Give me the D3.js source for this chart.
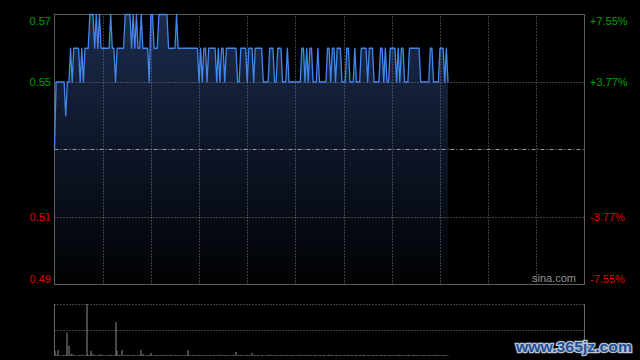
<!DOCTYPE html>
<html>
<head>
<meta charset="utf-8">
<script src="https://cdn.jsdelivr.net/npm/d3@7"></script>
<style>
	body { margin: 0; background: #000; }
	svg { display: block; }
	text { font-family: "Liberation Sans", Arial, sans-serif; }
</style>
</head>
<body>
<svg id="chart" width="640" height="360"></svg>
<script>
"use strict";

// previous close and the labelled price levels
const prevClose = 0.53;
const priceTicks = [0.57, 0.55, 0.51, 0.49];
const gridPrices = [0.55, 0.51];
// half-hour marks of the trading day (330 minutes)
const dayMinutes = 330;
const timeGrid = [30, 60, 90, 120, 150, 180, 210, 240, 270, 300];

// minute prices
const prices = [
	0.53,0.55,0.55,0.55,0.55,0.55,0.55,0.54,0.55,0.55,
	0.56,0.55,0.56,0.56,0.56,0.56,0.55,0.56,0.55,0.56,
	0.56,0.56,0.57,0.57,0.57,0.56,0.57,0.56,0.57,0.56,
	0.56,0.56,0.56,0.56,0.56,0.57,0.56,0.56,0.55,0.56,
	0.56,0.56,0.56,0.56,0.57,0.57,0.57,0.57,0.56,0.57,
	0.56,0.57,0.56,0.56,0.57,0.56,0.56,0.56,0.56,0.55,
	0.57,0.57,0.56,0.56,0.56,0.57,0.57,0.57,0.57,0.57,
	0.57,0.56,0.56,0.56,0.56,0.56,0.57,0.56,0.56,0.56,
	0.56,0.56,0.56,0.56,0.56,0.56,0.56,0.56,0.56,0.56,
	0.55,0.56,0.55,0.56,0.56,0.55,0.56,0.56,0.56,0.56,
	0.56,0.55,0.56,0.55,0.56,0.56,0.55,0.56,0.56,0.56,
	0.56,0.56,0.56,0.56,0.55,0.55,0.56,0.56,0.56,0.56,
	0.55,0.56,0.56,0.56,0.55,0.56,0.56,0.56,0.56,0.56,
	0.55,0.55,0.55,0.55,0.56,0.56,0.56,0.55,0.55,0.56,
	0.56,0.56,0.55,0.55,0.55,0.56,0.55,0.55,0.55,0.55,
	0.55,0.55,0.55,0.55,0.56,0.56,0.55,0.56,0.55,0.56,
	0.56,0.55,0.55,0.55,0.56,0.55,0.55,0.55,0.55,0.55,
	0.56,0.56,0.55,0.56,0.56,0.55,0.56,0.56,0.56,0.55,
	0.55,0.55,0.56,0.56,0.55,0.55,0.55,0.56,0.55,0.55,
	0.55,0.56,0.56,0.56,0.56,0.55,0.56,0.56,0.56,0.55,
	0.55,0.55,0.55,0.56,0.56,0.55,0.56,0.55,0.55,0.56,
	0.56,0.56,0.56,0.55,0.56,0.55,0.56,0.56,0.55,0.55,
	0.55,0.56,0.56,0.56,0.56,0.56,0.56,0.56,0.55,0.55,
	0.55,0.55,0.55,0.55,0.56,0.56,0.55,0.55,0.55,0.55,
	0.56,0.56,0.56,0.55,0.56,0.55
];

// minute volumes (thousand shares)
const volumes = [
	120,30,140,20,12,18,22,26,540,235,
	45,45,16,20,12,24,20,30,12,22,
	1200,30,25,120,45,20,15,25,20,45,
	20,14,26,18,22,30,16,24,780,118,
	25,20,140,18,24,12,30,20,16,26,
	22,14,28,20,140,45,18,24,16,30,
	70,20,14,26,18,22,12,28,16,20,
	24,14,30,18,12,26,20,16,22,14,
	18,24,12,140,20,16,26,14,22,18,
	30,16,22,12,26,20,14,28,18,22,
	16,24,12,30,18,14,22,20,26,12,
	18,24,16,95,20,14,26,18,22,12,
	24,16,20,70,14,28,18,22,12,26,
	20,14,24,18,30,16,22,12,26,20,
	14,28,18,22,12,24,16,20,26,14,
	18,22,12,30,20,16,24,14,26,18,
	22,12,28,16,20,24,14,18,26,12,
	20,30,16,22,14,24,18,12,26,20,
	16,22,14,28,18,24,12,20,26,16,
	22,14,18,30,12,24,20,16,26,14,
	18,22,12,28,20,16,24,14,22,18,
	26,12,20,16,24,30,14,22,18,12,
	26,20,16,24,14,28,18,22,12,20,
	24,16,14,26,18,22,12,28,20,16,
	24,14,22,18,26,12
];

const up = "#00a000", down = "#e00000";
const gridColor = "#7a7a7a";

const svg = d3.select("#chart");
const plot = {left: 54.5, right: 584.5, top: 14.5, bottom: 284.5};
const vol = {top: 304, bottom: 356};

const x = d3.scaleLinear()
	.domain([0, dayMinutes])
	.range([plot.left, plot.right]);
const y = d3.scaleLinear()
	.domain([d3.min(priceTicks), d3.max(priceTicks)])
	.range([plot.bottom, plot.top]);
const yv = d3.scaleLinear()
	.domain([0, d3.max(volumes)])
	.range([vol.bottom, vol.top]);

// rounded copies so grid lines land on whole pixels
const xg = x.copy().interpolate(d3.interpolateRound);
const yg = y.copy().interpolate(d3.interpolateRound);

// gradient under the price line
const grad = svg.append("defs")
	.append("linearGradient")
	.attr("id", "fillgrad")
	.attr("gradientUnits", "userSpaceOnUse")
	.attr("x1", 0).attr("x2", 0)
	.attr("y1", plot.top).attr("y2", plot.bottom);
grad.append("stop").attr("offset", 0).attr("stop-color", "#1b2c4c");
grad.append("stop").attr("offset", 0.5).attr("stop-color", "#0d1628");
grad.append("stop").attr("offset", 1).attr("stop-color", "#010203");

svg.append("path")
	.datum(prices)
	.attr("fill", "url(#fillgrad)")
	.attr("d", d3.area()
		.x((d, i) => x(i))
		.y0(plot.bottom)
		.y1(d => y(d)));

// grid
const vgrid = svg.append("g")
	.attr("transform", `translate(0, ${plot.bottom})`)
	.call(d3.axisBottom(xg)
		.tickValues(timeGrid)
		.tickSize(-(plot.bottom - plot.top))
		.tickFormat(""));
const hgrid = svg.append("g")
	.attr("transform", `translate(${plot.left}, 0)`)
	.call(d3.axisLeft(yg)
		.tickValues(gridPrices)
		.tickSize(-(plot.right - plot.left))
		.tickFormat(""));
[vgrid, hgrid].forEach(g => {
	g.select(".domain").remove();
	g.selectAll("line")
		.attr("stroke", gridColor)
		.attr("stroke-dasharray", "1,2");
});

// previous close line
const pcY = Math.floor(y(prevClose)) + 0.5;
svg.append("line")
	.attr("x1", plot.left).attr("x2", plot.right)
	.attr("y1", pcY).attr("y2", pcY)
	.attr("stroke", "#9a9a9a")
	.attr("stroke-dasharray", "4,2,1,2");

svg.append("rect")
	.attr("x", plot.left).attr("y", plot.top)
	.attr("width", plot.right - plot.left)
	.attr("height", plot.bottom - plot.top)
	.attr("fill", "none")
	.attr("stroke", "#5e5e5e");

svg.append("text")
	.attr("x", 532).attr("y", 282)
	.attr("fill", "#959595")
	.attr("font-size", 11)
	.text("sina.com");

// price line
svg.append("path")
	.datum(prices)
	.attr("fill", "none")
	.attr("stroke", "#4287ec")
	.attr("stroke-width", 1.3)
	.attr("stroke-linejoin", "round")
	.attr("d", d3.line()
		.x((d, i) => x(i))
		.y(d => y(d)));

// price labels, left and right
const pct = v => {
	let p = (v - prevClose) / prevClose * 100;
	return (p >= 0 ? "+" : "-") + Math.abs(p).toFixed(2) + "%";
};
const leftAxis = svg.append("g")
	.attr("transform", `translate(${plot.left}, 0)`)
	.call(d3.axisLeft(yg)
		.tickValues(priceTicks)
		.tickSize(0)
		.tickPadding(3.5)
		.tickFormat(d3.format(".2f")));
const rightAxis = svg.append("g")
	.attr("transform", `translate(${plot.right}, 0)`)
	.call(d3.axisRight(yg)
		.tickValues(priceTicks)
		.tickSize(0)
		.tickPadding(5.5)
		.tickFormat(pct));
[leftAxis, rightAxis].forEach(g => {
	g.select(".domain").remove();
	g.attr("font-family", null).attr("font-size", null);
	g.selectAll("text")
		.attr("font-size", 11)
		.attr("fill", d => d > prevClose ? up : down)
		.attr("dy", d => d === d3.max(priceTicks) ? "0.82em"
			: d === d3.min(priceTicks) ? "-0.26em" : "0.34em");
});

// volume panel
const vgridG = svg.append("g")
	.attr("transform", `translate(${plot.left}, 0)`)
	.call(d3.axisLeft(yv.copy().interpolate(d3.interpolateRound))
		.tickValues([d3.max(volumes), d3.max(volumes) / 2])
		.tickSize(-(plot.right - plot.left))
		.tickFormat(""));
vgridG.select(".domain").remove();
vgridG.selectAll("line")
	.attr("stroke", gridColor)
	.attr("stroke-dasharray", "1,2");

svg.append("g")
	.selectAll("rect")
	.data(volumes)
	.join("rect")
	.attr("x", (d, i) => Math.round(x(i)) - 0.5)
	.attr("width", 1)
	.attr("y", d => yv(d))
	.attr("height", d => vol.bottom - yv(d))
	.attr("fill", "#8c8c8c");

[plot.left, plot.right].forEach(px => {
	svg.append("line")
		.attr("x1", px).attr("x2", px)
		.attr("y1", vol.top).attr("y2", vol.bottom - 1)
		.attr("stroke", "#6a6a6a");
});

// site watermark
svg.append("text")
	.attr("x", 516).attr("y", 352)
	.attr("font-family", "'DejaVu Sans', sans-serif")
	.attr("font-weight", "bold")
	.attr("font-size", 15)
	.attr("textLength", 116)
	.attr("lengthAdjust", "spacingAndGlyphs")
	.attr("fill", "#1f4f98")
	.attr("stroke", "#b9c3d2")
	.attr("stroke-width", 2.5)
	.attr("paint-order", "stroke")
	.text("www.365jz.com");
</script>
</body>
</html>
